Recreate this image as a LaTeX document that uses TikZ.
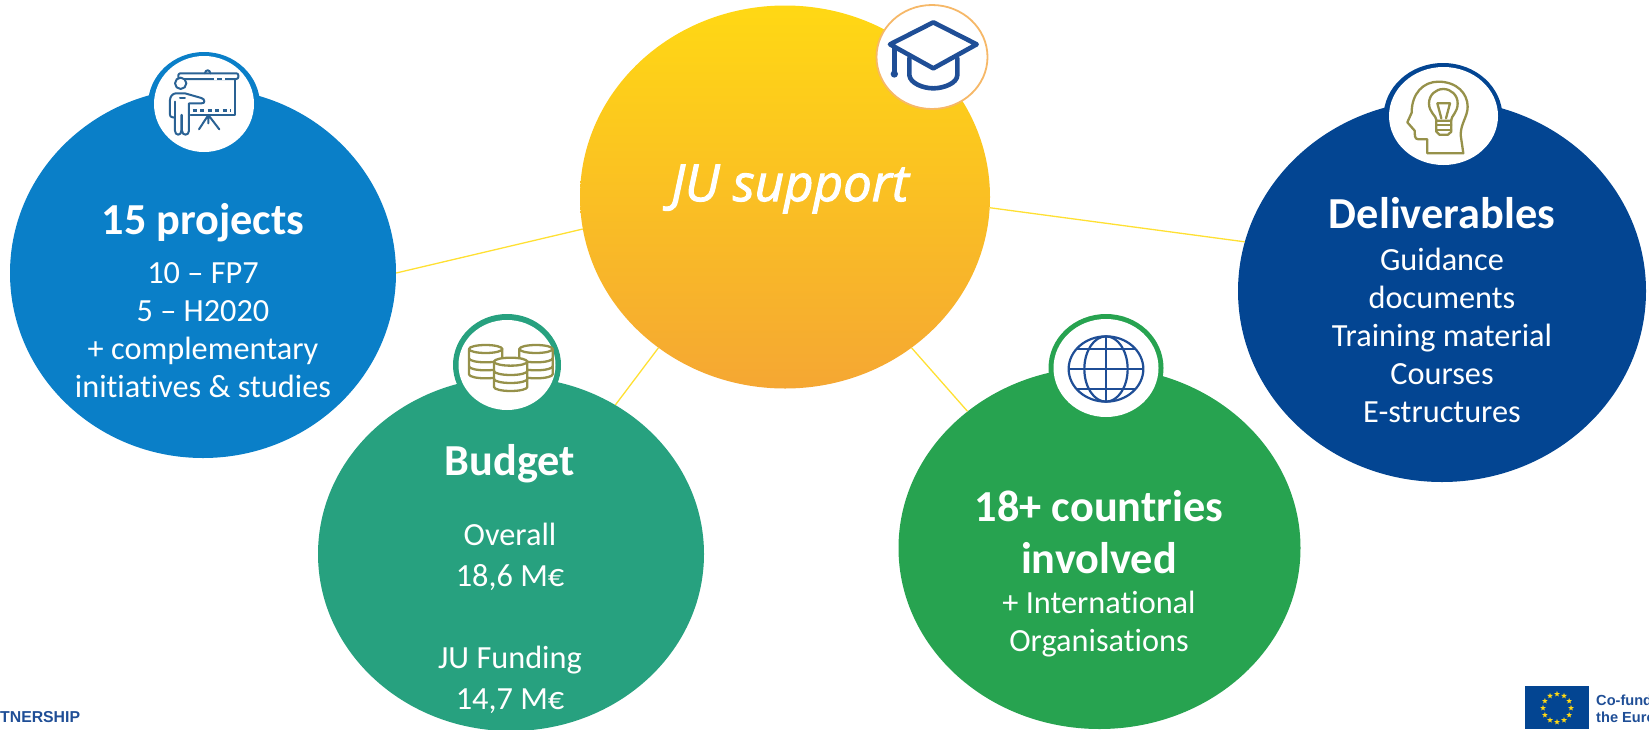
\documentclass[tikz,border=0pt]{standalone}
\usepackage{fontspec}
\usetikzlibrary{shapes.geometric,calc}
\setmainfont[Ligatures=NoCommon]{Carlito}
\newfontfamily\logofont{Liberation Sans}
\newfontfamily\jufont[ItalicFeatures={FakeBold=2}]{Open Sans}
\definecolor{cblue}{HTML}{0A7FC8}
\definecolor{cnavy}{HTML}{034592}
\definecolor{cteal}{HTML}{27A17F}
\definecolor{cgreen}{HTML}{27A350}
\definecolor{cytop}{HTML}{FFD814}
\definecolor{cybot}{HTML}{F5A733}
\definecolor{cline}{HTML}{FFE033}
\definecolor{iconblue}{HTML}{1F4E96}
\definecolor{iconsteel}{HTML}{2A6294}
\definecolor{iconolive}{HTML}{96914A}
\definecolor{corange}{HTML}{F6B868}
\tikzset{
  bubble/.style={ellipse,inner sep=0pt,draw=none},
  badge/.style={ellipse,inner sep=0pt,fill=white,draw=none},
  link/.style={draw=cline,line width=1.3pt},
  heading/.style={text=white,font=\fontsize{44.3}{50}\selectfont\bfseries,align=center,inner sep=0pt},
  body/.style={text=white,font=\fontsize{32.3}{38}\selectfont,align=center,inner sep=0pt},
  cap line/.style={draw=iconblue,line width=4.6pt,line cap=round,line join=round},
  olive line/.style={draw=iconolive,line width=2.3pt,line cap=round,line join=round},
  steel line/.style={draw=iconsteel,line width=2pt,line cap=round,line join=round},
  globe line/.style={draw=iconblue,line width=2.2pt},
  eustar/.style={star,star points=5,star point ratio=2.4,fill=cytop,inner sep=0pt,minimum size=6pt,draw=none},
  logotext/.style={text=iconblue,font=\logofont\bfseries\fontsize{14.6}{18}\selectfont,inner sep=0pt,anchor=west},
}
\begin{document}
\begin{tikzpicture}[x=1pt,y=-1pt]
\useasboundingbox (0,0) rectangle (1649,729);
\clip (0,0) rectangle (1649,729);
% bubbles
\node[bubble,fill=cblue,minimum width=386pt,minimum height=370pt] (projects) at (203,273) {};
\node[bubble,fill=cteal,minimum width=386pt,minimum height=354pt] (budget) at (511,554) {};
\node[bubble,fill=cgreen,minimum width=402pt,minimum height=362pt] (countries) at (1099.5,548) {};
\node[bubble,fill=cnavy,minimum width=408pt,minimum height=382pt] (deliv) at (1442,291) {};
\node[bubble,top color=cytop,bottom color=cybot,minimum width=410pt,minimum height=383pt] (ju) at (785,197) {};
% connectors
\draw[link] (projects.0) -- (ju.189.6);
\draw[link] (budget.55.8) -- (ju.230);
\draw[link] (countries.134.4) -- (ju.-50.4);
\draw[link] (deliv.166.3) -- (ju.-3);
% badges
\node[bubble,fill=cblue,minimum width=112pt,minimum height=106pt] (b1o) at (204,105) {};
\node[badge,minimum width=100pt,minimum height=96pt] (b1) at (204,104) {};
\node[badge,draw=corange,line width=1.8pt,minimum width=111pt,minimum height=104pt] (b2) at (932,57) {};
\node[bubble,fill=cnavy,minimum width=119pt,minimum height=108pt] (b3o) at (1443,117) {};
\node[badge,minimum width=109pt,minimum height=98pt] (b3) at (1443.5,116) {};
\node[bubble,fill=cteal,minimum width=108pt,minimum height=102pt] (b4o) at (507,365) {};
\node[badge,minimum width=97pt,minimum height=90pt] (b4) at (507,365) {};
\node[bubble,fill=cgreen,minimum width=115pt,minimum height=108pt] (b5o) at (1106,368) {};
\node[badge,minimum width=105pt,minimum height=98pt] (b5) at (1106,368) {};
% presenter icon
\begin{scope}[shift={(130,40)},x=0.3333pt,y=-0.3333pt]
\draw[steel line,rounded corners=2pt] (145,100) rectangle (325,117);
\draw[white,line width=2.6pt] (252,117) -- (262,117) (276,117) -- (286,117);
\draw[steel line] (225,100) .. controls (225,88) and (241,88) .. (241,100);
\draw[steel line] (316,117) -- (316,225) -- (182,225);
\draw[steel line,dash pattern=on 4pt off 3.5pt,line cap=butt,line width=2.4pt] (188,212) -- (302,212);
\draw[steel line] (235,225) -- (207,268) (235,225) -- (268,268) (235,225) -- (235,250);
\draw[steel line,fill=white] (152,130) circle (17);
\draw[steel line,fill=white] (138,160) -- (165,160) -- (214,174) .. controls (226,177) and (226,192) .. (214,190) -- (177,190) -- (177,272) .. controls (177,288) and (156,288) .. (156,272) -- (156,225) -- (154,225) -- (154,272) .. controls (154,288) and (135,288) .. (135,272) -- (135,232) -- (128,232) .. controls (122,232) and (120,228) .. (120,224) -- (120,180) .. controls (120,170) and (128,160) .. (138,160);
\draw[steel line] (135,185) -- (135,232);
\draw[steel line] (150,175) -- (165,175);
\end{scope}
% cap icon
\begin{scope}[shift={(860,0)},x=0.3333pt,y=-0.3333pt]
\draw[cap line] (220,67) -- (350,133) -- (220,205) -- (90,133) -- cycle;
\draw[cap line] (103,145) -- (103,215);
\fill[iconblue] (103,222) circle (11);
\draw[cap line] (148,175) -- (148,225) .. controls (150,250) and (190,265) .. (220,265) .. controls (250,265) and (292,250) .. (292,225) -- (292,175);
\end{scope}
% head icon
\begin{scope}[shift={(1370,60)},x=0.3333pt,y=-0.3333pt]
\draw[olive line] (172,280) -- (172,238) -- (145,238) .. controls (132,238) and (135,222) .. (134,212) -- (112,187) -- (125,158) .. controls (125,100) and (160,65) .. (205,65) .. controls (260,65) and (293,100) .. (293,140) .. controls (293,170) and (272,190) .. (272,225) -- (280,280) -- cycle;
\draw[olive line] (200,182) .. controls (198,165) and (177,158) .. (177,130) .. controls (177,105) and (197,87) .. (220,87) .. controls (243,87) and (263,105) .. (263,130) .. controls (263,158) and (245,165) .. (243,182) -- cycle;
\draw[olive line] (199,182) -- (199,215) -- (208,224) -- (234,224) -- (244,215) -- (244,182);
\draw[olive line] (199,196) -- (244,196) (199,209) -- (244,209);
\draw[olive line] (202,130) -- (240,130) -- (228,175) (202,130) -- (214,175);
\end{scope}
% coins icon
\begin{scope}[shift={(440,310)},x=0.3333pt,y=-0.3333pt]
\foreach \cx/\cy in {288/117,137/117,212/155}{
\begin{scope}[shift={(\cx,\cy)}]
\draw[olive line,fill=white] (-50,0) -- (-50,76) arc (180:0:50 and 12) -- (50,0) arc (0:-180:50 and 12);
\draw[olive line] (-50,0) arc (180:0:50 and 12);
\draw[olive line] (-50,28) arc (180:0:50 and 12);
\draw[olive line] (-50,52) arc (180:0:50 and 12);
\end{scope}}
\end{scope}
% globe icon
\begin{scope}[shift={(1040,310)},x=0.3333pt,y=-0.3333pt]
\draw[globe line] (198,177) ellipse (112 and 98);
\draw[globe line] (198,177) ellipse (65 and 98);
\draw[globe line] (86,177) -- (310,177) (198,79) -- (198,275);
\draw[globe line] (112,118) -- (284,118) (112,236) -- (284,236);
\end{scope}
% texts
\node[text=white,inner sep=0pt,font=\jufont\itshape\fontsize{51}{60}\selectfont] (jut) at (790,189) {JU support};
\node[heading] (t1) at (203,223) {15 projects};
\node[body] (t1b) at (203,330) {10 – FP7\\5 – H2020\\+ complementary\\initiatives \& studies};
\node[heading] (t2) at (1442,213) {Deliverables};
\node[body] (t2b) at (1442,335) {Guidance\\documents\\Training material\\Courses\\E-structures};
\node[heading] (t3) at (510,464) {Budget};
\node[body,font=\fontsize{32.3}{41}\selectfont] (t3b) at (510,618) {Overall\\18,6 M€\\[0pt]\strut\\JU Funding\\14,7 M€};
\node[heading,font=\fontsize{44.3}{52}\selectfont\bfseries] (t4) at (1099,532) {18+ countries\\involved};
\node[body] (t4b) at (1099,624) {+ International\\Organisations};
% footer
\node[logotext,font=\logofont\bfseries\fontsize{15.8}{18}\selectfont] (lg) at (0,717) {TNERSHIP};
\node[rectangle,fill=cnavy,inner sep=0pt,anchor=north west,minimum width=64pt,minimum height=43pt] (flag) at (1525,686) {};
\foreach \a in {0,30,...,330}{\node[eustar] (st\a) at ($(1557,708)+(\a:14pt)$) {};}
\node[logotext] (cf1) at (1596,700) {Co-fund};
\node[logotext] (cf2) at (1596,717) {the Euro};
\end{tikzpicture}
\end{document}
